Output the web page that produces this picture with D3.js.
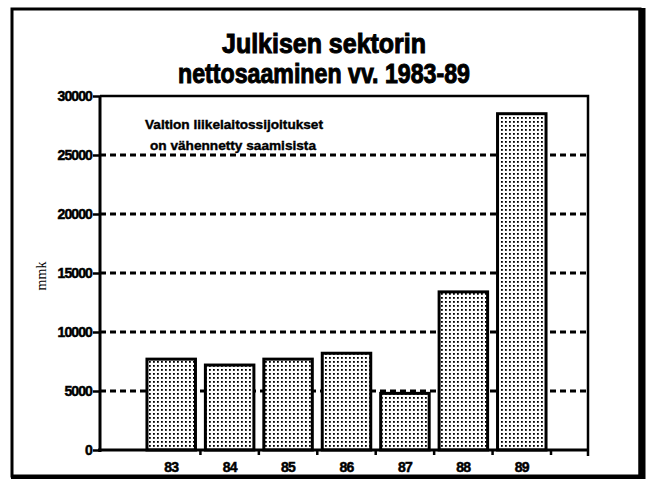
<!DOCTYPE html>
<html>
<head>
<meta charset="utf-8">
<script src="https://cdn.jsdelivr.net/npm/d3@7"></script>
<style>
  body { margin: 0; background: #fff; }
  svg { display: block; }
  text { font-family: "Liberation Sans", Arial, sans-serif; font-weight: bold; fill: #000; }
</style>
</head>
<body>
<div id="chart"></div>
<script>
// data
const years = ["83", "84", "85", "86", "87", "88", "89"];
const netAssets = [7700, 7200, 7700, 8200, 4800, 13400, 28500];
const yTicks = [0, 5000, 10000, 15000, 20000, 25000, 30000];
const titleLines = ["Julkisen sektorin", "nettosaaminen vv. 1983-89"];
const noteLines = ["Valtion liikelaitossijoitukset", "on vähennetty saamisista"];

const W = 651, H = 482;
const plot = { left: 100, right: 588, top: 96, bottom: 450 };

const svg = d3.select("#chart")
    .append("svg")
    .attr("width", W)
    .attr("height", H);

// dotted fill like the screened print
const pat = svg.append("defs").append("pattern")
    .attr("id", "dots")
    .attr("patternUnits", "userSpaceOnUse")
    .attr("width", 4)
    .attr("height", 4);
pat.append("rect").attr("width", 4).attr("height", 4).attr("fill", "#fff");
pat.append("rect").attr("x", 1).attr("y", 1).attr("width", 1.8).attr("height", 1.8).attr("fill", "#000");

// outer frame
svg.append("rect")
    .attr("x", 12).attr("y", 9)
    .attr("width", 628).attr("height", 467)
    .attr("fill", "none")
    .attr("stroke", "#000")
    .attr("stroke-width", 3);
svg.append("line")
    .attr("x1", 642).attr("x2", 642).attr("y1", 8).attr("y2", 479)
    .attr("stroke", "#000").attr("stroke-width", 7);
svg.append("line")
    .attr("x1", 11).attr("x2", 645).attr("y1", 477).attr("y2", 477)
    .attr("stroke", "#000").attr("stroke-width", 4);

// title
const titleW = [204, 292];
svg.selectAll(".title")
    .data(titleLines)
    .enter().append("text")
    .attr("class", "title")
    .attr("x", 324)
    .attr("y", (d, i) => 53 + i * 30)
    .attr("text-anchor", "middle")
    .attr("font-size", 27)
    .attr("stroke", "#000")
    .attr("stroke-width", 1)
    .attr("textLength", (d, i) => titleW[i])
    .attr("lengthAdjust", "spacingAndGlyphs")
    .text(d => d);

const x = d3.scaleBand()
    .domain(years)
    .range([142, 551])
    .paddingInner(0.17)
    .paddingOuter(0.085);

const y = d3.scaleLinear()
    .domain([0, 30000])
    .range([plot.bottom, plot.top]);

// dashed grid
svg.selectAll(".grid")
    .data(yTicks.filter(t => t > 0 && t < 30000))
    .enter().append("line")
    .attr("class", "grid")
    .attr("x1", plot.left).attr("x2", plot.right)
    .attr("y1", d => y(d)).attr("y2", d => y(d))
    .attr("stroke", "#000")
    .attr("stroke-width", 3)
    .attr("stroke-dasharray", "6,4");

// plot box top and right
svg.append("path")
    .attr("d", `M${plot.left},${y(30000)}H${plot.right}V${plot.bottom + 6}`)
    .attr("fill", "none")
    .attr("stroke", "#000")
    .attr("stroke-width", 2.5);

// bars
svg.selectAll(".bar")
    .data(netAssets)
    .enter().append("rect")
    .attr("class", "bar")
    .attr("x", (d, i) => x(years[i]))
    .attr("y", d => y(d))
    .attr("width", x.bandwidth())
    .attr("height", d => y(0) - y(d))
    .attr("fill", "url(#dots)")
    .attr("stroke", "#000")
    .attr("stroke-width", 3);

// y axis
const yAxis = svg.append("g")
    .attr("transform", `translate(${plot.left},0)`)
    .call(d3.axisLeft(y).tickValues(yTicks).tickSize(7).tickPadding(1).tickFormat(d3.format("d")));
yAxis.select(".domain").attr("stroke-width", 3).attr("d", `M0,${y(30000)}V${y(0) + 2}`);
yAxis.selectAll(".tick line").attr("stroke-width", 2.5);
yAxis.selectAll(".tick text")
    .attr("font-size", 14)
    .attr("font-family", "Liberation Sans, Arial, sans-serif")
    .attr("font-weight", "bold")
    .attr("letter-spacing", "-0.9")
    .attr("stroke", "#000")
    .attr("stroke-width", 0.5);

// x axis
svg.append("line")
    .attr("x1", plot.left - 2).attr("x2", plot.right)
    .attr("y1", plot.bottom).attr("y2", plot.bottom)
    .attr("stroke", "#000").attr("stroke-width", 3);
svg.selectAll(".xtick")
    .data(years.slice(1).concat(["end"]))
    .enter().append("line")
    .attr("class", "xtick")
    .attr("x1", (d, i) => x(years[i]) + x.step() * (1 - 0.17 / 2))
    .attr("x2", (d, i) => x(years[i]) + x.step() * (1 - 0.17 / 2))
    .attr("y1", plot.bottom).attr("y2", plot.bottom + 5)
    .attr("stroke", "#000").attr("stroke-width", 2.5);
svg.selectAll(".xlabel")
    .data(years)
    .enter().append("text")
    .attr("class", "xlabel")
    .attr("x", d => x(d) + x.bandwidth() / 2)
    .attr("y", 472)
    .attr("text-anchor", "middle")
    .attr("font-size", 14)
    .attr("letter-spacing", "-0.8")
    .attr("stroke", "#000")
    .attr("stroke-width", 0.5)
    .text(d => d);

// unit label
svg.append("text")
    .attr("transform", "translate(46,276) rotate(-90)")
    .attr("text-anchor", "middle")
    .attr("font-size", 14)
    .style("font-family", "Liberation Serif, serif")
    .style("font-weight", "normal")
    .text("mmk");

// note
const noteW = [178, 166];
svg.selectAll(".note")
    .data(noteLines)
    .enter().append("text")
    .attr("class", "note")
    .attr("x", (d, i) => 145 + i * 5)
    .attr("y", (d, i) => 129 + i * 21)
    .attr("font-size", 13)
    .attr("stroke", "#000")
    .attr("stroke-width", 0.4)
    .attr("textLength", (d, i) => noteW[i])
    .attr("lengthAdjust", "spacingAndGlyphs")
    .text(d => d);
</script>
</body>
</html>
